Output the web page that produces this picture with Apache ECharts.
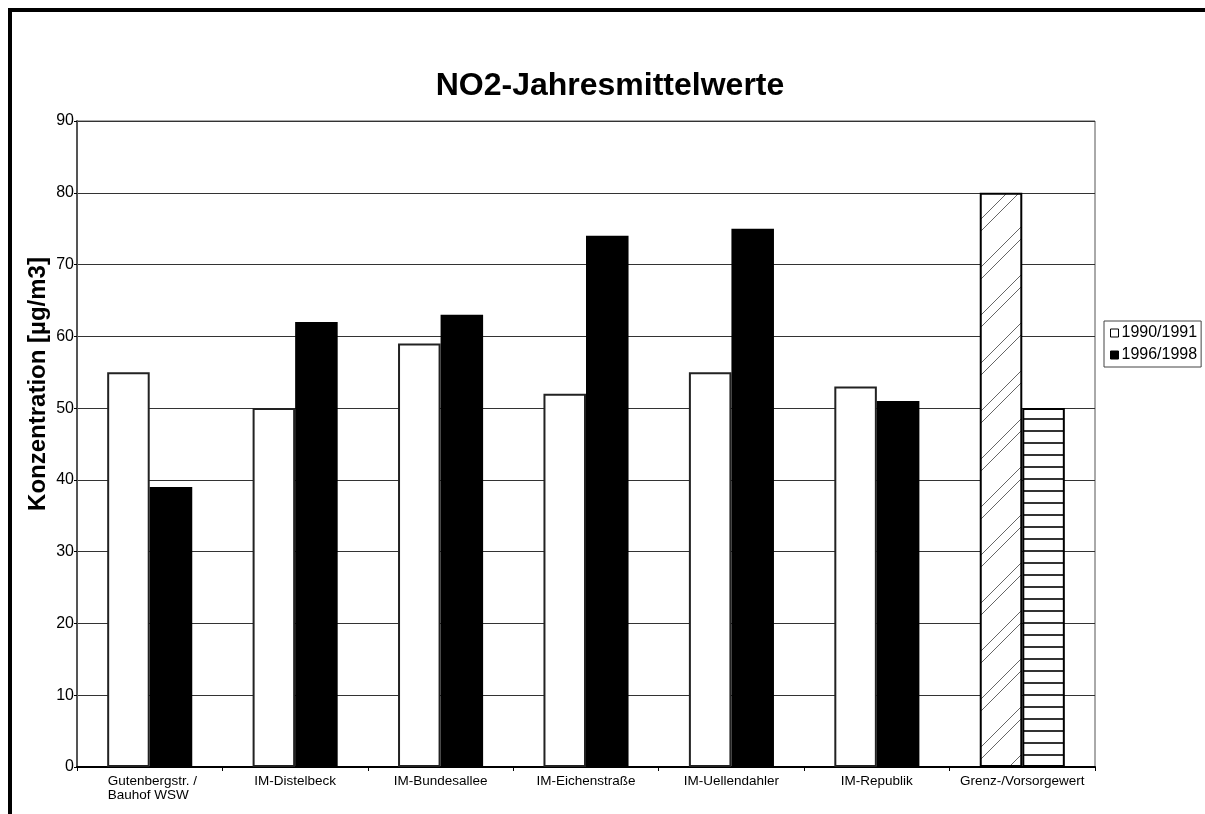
<!DOCTYPE html>
<html>
<head>
<meta charset="utf-8">
<title>NO2-Jahresmittelwerte</title>
<script src="https://cdn.jsdelivr.net/npm/echarts@6/dist/echarts.min.js"></script>
<style>
  html, body { margin: 0; padding: 0; background: #fff; }
  #chart { width: 1205px; height: 814px; }
</style>
</head>
<body>
<div id="chart"></div>
<script>
// Messstellen (Kategorien) und Jahresmittelwerte in µg/m3
const categories = [
  'Gutenbergstr. /\nBauhof WSW',
  'IM-Distelbeck',
  'IM-Bundesallee',
  'IM-Eichenstraße',
  'IM-Uellendahler',
  'IM-Republik',
  'Grenz-/Vorsorgewert'
];
const seriesNames = ['1990/1991', '1996/1998'];
const values1990 = [55, 50, 59, 52, 55, 53, 80];
const values1996 = [39, 62, 63, 74, 75, 51, 50];
const yTicks = [0, 10, 20, 30, 40, 50, 60, 70, 80, 90];

const FONT = '"Liberation Sans", Arial, Helvetica, sans-serif';

// Schraffur: paarweise diagonale Linien
function diagonalHatch() {
  const c = document.createElement('canvas');
  c.width = 48; c.height = 48;
  const g = c.getContext('2d');
  g.fillStyle = '#fff';
  g.fillRect(0, 0, 48, 48);
  g.strokeStyle = '#666';
  g.lineWidth = 1;
  [0, 12, 48, 60, 96, 108].forEach(function (k) {
    g.beginPath();
    g.moveTo(0, k);
    g.lineTo(48, k - 48);
    g.stroke();
  });
  return c;
}

// Schraffur: waagerechte Streifen
function horizontalStripes() {
  const c = document.createElement('canvas');
  c.width = 8; c.height = 12;
  const g = c.getContext('2d');
  g.fillStyle = '#fff';
  g.fillRect(0, 0, 8, 12);
  g.fillStyle = '#333';
  g.fillRect(0, 10, 8, 2);
  return c;
}

const lastIdx = categories.length - 1;
const data1990 = values1990.map(function (v, i) {
  if (i !== lastIdx) return v;
  return {
    value: v,
    itemStyle: { color: { image: diagonalHatch(), repeat: 'repeat' }, borderColor: '#000', borderWidth: 2 }
  };
});
const data1996 = values1996.map(function (v, i) {
  if (i !== lastIdx) return v;
  return {
    value: v,
    itemStyle: { color: { image: horizontalStripes(), repeat: 'repeat' }, borderColor: '#000', borderWidth: 2 }
  };
});

const chart = echarts.init(document.getElementById('chart'), null, { renderer: 'canvas' });

chart.setOption({
  animation: false,
  backgroundColor: '#fff',
  textStyle: { fontFamily: FONT, color: '#000' },
  graphic: [
    {
      type: 'rect',
      shape: { x: 10, y: 10, width: 1400, height: 1000 },
      style: { fill: 'none', stroke: '#000', lineWidth: 4 },
      z: 0
    },
    {
      type: 'text',
      x: 610, y: 86,
      style: {
        text: 'NO2-Jahresmittelwerte',
        font: 'bold 32px ' + FONT,
        fill: '#000',
        textAlign: 'center',
        textVerticalAlign: 'middle'
      }
    },
    {
      type: 'text',
      x: 38, y: 384,
      rotation: Math.PI / 2,
      style: {
        text: 'Konzentration [µg/m3]',
        font: 'bold 24px ' + FONT,
        fill: '#000',
        textAlign: 'center',
        textVerticalAlign: 'middle'
      }
    }
  ],
  legend: {
    orient: 'vertical',
    left: 1104,
    top: 321,
    padding: [3, 4, 3, 6],
    itemGap: 4,
    itemWidth: 8,
    itemHeight: 8,
    icon: 'rect',
    borderColor: '#444',
    borderWidth: 1,
    itemStyle: { borderWidth: 1, borderColor: '#000' },
    textStyle: { fontSize: 16, lineHeight: 18, color: '#000', padding: [0, 0, 0, -2] },
    data: seriesNames
  },
  grid: {
    left: 77,
    right: 110,
    top: 121,
    bottom: 47,
    show: true,
    borderColor: '#555',
    borderWidth: 1,
    containLabel: false
  },
  xAxis: {
    type: 'category',
    data: categories,
    boundaryGap: true,
    axisLine: { lineStyle: { color: '#000', width: 2 } },
    axisTick: { show: true, interval: 0, length: 4, lineStyle: { color: '#000' } },
    axisLabel: {
      interval: 0,
      margin: 7,
      fontSize: 13.5,
      lineHeight: 14,
      color: '#000',
      formatter: function (v) {
        if (v.indexOf('\n') < 0) return v;
        return v.split('\n').map(function (l) { return '{l|' + l + '}'; }).join('\n');
      },
      rich: { l: { width: 84, align: 'left', fontSize: 13.5, lineHeight: 14, color: '#000' } }
    },
    splitLine: { show: false }
  },
  yAxis: {
    type: 'value',
    min: yTicks[0],
    max: yTicks[yTicks.length - 1],
    interval: 10,
    axisLine: { show: true, lineStyle: { color: '#555', width: 2 } },
    axisTick: { show: true, length: 3, lineStyle: { color: '#000' } },
    axisLabel: { margin: 3, fontSize: 16, color: '#000' },
    splitLine: { show: true, lineStyle: { color: '#333', width: 1 } }
  },
  series: [
    {
      name: seriesNames[0],
      type: 'bar',
      data: data1990,
      barGap: '0%',
      barCategoryGap: '41.5%',
      itemStyle: { color: '#fff', borderColor: '#222', borderWidth: 2 },
      z: 2
    },
    {
      name: seriesNames[1],
      type: 'bar',
      data: data1996,
      barGap: '0%',
      barCategoryGap: '41.5%',
      itemStyle: { color: '#000', borderColor: '#000', borderWidth: 0 },
      z: 3
    }
  ]
});
</script>
</body>
</html>
